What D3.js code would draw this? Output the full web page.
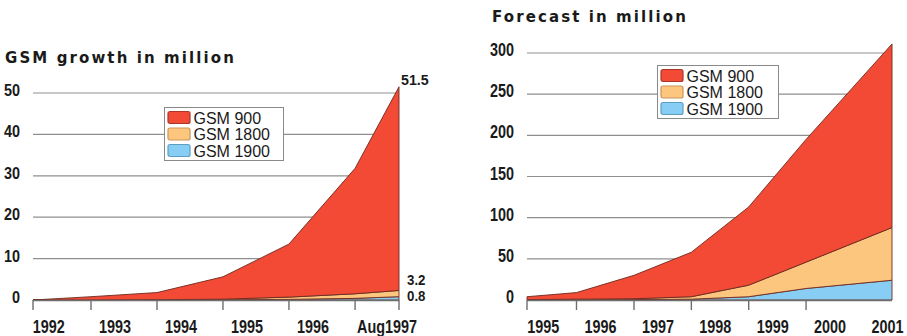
<!DOCTYPE html>
<html>
<head>
<meta charset="utf-8">
<script src="https://cdn.jsdelivr.net/npm/d3@7"></script>
<style>
  body { margin: 0; background: #fff; }
  svg { display: block; }
</style>
</head>
<body>
<script>
let width = 907
let height = 336

// series, bottom of the stack last
let seriesNames = ['GSM 900', 'GSM 1800', 'GSM 1900']
let seriesColors = ['#f34a35', '#fdc67e', '#88cef4']
let swatchStroke = ['#a8372a', '#c9955a', '#5c9dc2']

// left panel: GSM growth in million
let growthDates = ['1992-02-15', '1993-01-01', '1994-01-01', '1995-01-01', '1996-01-01', '1997-01-01', '1997-09-01']
let growth900 = [0, 0.78, 1.72, 5.4, 12.8, 30.3, 49.2]
let growth1800 = [0, 0.02, 0.08, 0.15, 0.55, 1.1, 1.5]
let growth1900 = [0, 0, 0, 0.05, 0.15, 0.4, 0.8]
let growthTicks = [0, 10, 20, 30, 40, 50]
let growthLabels = ['1992', '1993', '1994', '1995', '1996', 'Aug1997']
let growthEndValues = [51.5, 3.2, 0.8]

// right panel: Forecast in million
let forecastDates = ['1995-02-20', '1996-01-01', '1997-01-01', '1998-01-01', '1999-01-01', '2000-01-01', '2001-07-01']
let forecast900 = [3.5, 8, 28.5, 54, 95, 149, 223]
let forecast1800 = [0.5, 1, 1, 3, 14, 32, 64]
let forecast1900 = [0, 0, 0.5, 1, 4, 14, 24]
let forecastTicks = [0, 50, 100, 150, 200, 250, 300]
let forecastLabels = ['1995', '1996', '1997', '1998', '1999', '2000', '2001']

let parse = d3.timeParse('%Y-%m-%d')
let condFont = '"Liberation Sans", Arial, sans-serif'

let svg = d3.select('body')
  .append('svg')
  .attr('width', width)
  .attr('height', height)

svg.append('rect').attr('width', width).attr('height', height).attr('fill', '#fff')

function rows(dates, s900, s1800, s1900) {
  return dates.map((d, i) => ({
    date: parse(d),
    'GSM 900': s900[i],
    'GSM 1800': s1800[i],
    'GSM 1900': s1900[i]
  }))
}

// bold condensed text, squeezed horizontally
function condText(g, txt, x, y, size, sx, anchor) {
  return g.append('text')
    .attr('transform', 'translate(' + x + ',' + y + ') scale(' + sx + ',1)')
    .attr('font-family', condFont)
    .attr('font-weight', 'bold')
    .attr('font-size', size)
    .attr('text-anchor', anchor)
    .attr('fill', '#1a1a1a')
    .text(txt)
}

function drawPanel(cfg) {
  let g = svg.append('g')
  let data = rows(cfg.dates, cfg.s900, cfg.s1800, cfg.s1900)

  let x = d3.scaleTime()
    .domain(d3.extent(data, d => d.date))
    .range([cfg.left, cfg.right])
  let y = d3.scaleLinear()
    .domain([0, d3.max(cfg.yTicks)])
    .range([cfg.base, cfg.top])

  // title
  g.append('text')
    .attr('x', cfg.titleX)
    .attr('y', cfg.titleY)
    .attr('font-family', '"DejaVu Sans", sans-serif')
    .attr('font-weight', 'bold')
    .attr('font-size', 15)
    .attr('letter-spacing', '2.1px')
    .attr('fill', '#1a1a1a')
    .text(cfg.title)

  // grid
  g.selectAll('.grid')
    .data(cfg.yTicks.filter(v => v > 0))
    .enter()
    .append('line')
    .attr('x1', cfg.left)
    .attr('x2', cfg.right)
    .attr('y1', d => y(d))
    .attr('y2', d => y(d))
    .attr('stroke', '#8f8f8f')
    .attr('stroke-width', 1.2)

  // y labels
  cfg.yTicks.forEach(v => {
    condText(g, v, cfg.yLabelX, y(v) + 3, cfg.yFont, cfg.ySx, 'end')
  })

  // stacked areas
  let stack = d3.stack().keys(seriesNames.slice().reverse())
  let layers = stack(data)
  let area = d3.area()
    .x(d => x(d.data.date))
    .y0(d => y(d[0]))
    .y1(d => y(d[1]))

  g.selectAll('.layer')
    .data(layers)
    .enter()
    .append('path')
    .attr('d', area)
    .attr('fill', d => seriesColors[seriesNames.indexOf(d.key)])
    .attr('stroke', '#6b2a20')
    .attr('stroke-width', 0.9)
    .attr('stroke-linejoin', 'round')

  // x axis baseline and ticks
  g.append('line')
    .attr('x1', cfg.left)
    .attr('x2', cfg.right)
    .attr('y1', cfg.base + 0.5)
    .attr('y2', cfg.base + 0.5)
    .attr('stroke', '#6e6e6e')
    .attr('stroke-width', 1.4)

  let tickDates = cfg.endTick ? data : data.slice(0, -1)
  g.selectAll('.tick')
    .data(tickDates)
    .enter()
    .append('line')
    .attr('x1', d => x(d.date))
    .attr('x2', d => x(d.date))
    .attr('y1', cfg.base)
    .attr('y2', cfg.base + 10)
    .attr('stroke', '#6e6e6e')
    .attr('stroke-width', 1.4)

  cfg.xLabels.forEach(lab => {
    if (/^\d{4}$/.test(lab)) {
      let cx = x(new Date(+lab, 0, 1)) + 24
      condText(g, lab, cx, 333, 18, 0.8, 'middle')
    } else {
      condText(g, lab, cfg.right + 18, 333, 18, 0.8, 'end')
    }
  })

  // legend
  let lg = g.append('g')
    .attr('transform', 'translate(' + cfg.legendX + ',' + cfg.legendY + ')')
  lg.append('rect')
    .attr('width', cfg.legendW)
    .attr('height', 53)
    .attr('fill', '#fff')
    .attr('stroke', '#8a8a8a')
    .attr('stroke-width', 1)
  seriesNames.forEach((name, i) => {
    lg.append('rect')
      .attr('x', 3.5)
      .attr('y', 4 + i * 16.5)
      .attr('width', 22)
      .attr('height', 12)
      .attr('rx', 2)
      .attr('fill', seriesColors[i])
      .attr('stroke', swatchStroke[i])
      .attr('stroke-width', 1.2)
    lg.append('text')
      .attr('x', 29)
      .attr('y', 16 + i * 16.5)
      .attr('font-family', '"Liberation Sans", Arial, sans-serif')
      .attr('font-size', 16)
      .attr('fill', '#1a1a1a')
      .text(name)
  })

  return {g: g, x: x, y: y}
}

let left = drawPanel({
  title: 'GSM growth in million', titleX: 5, titleY: 63,
  dates: growthDates, s900: growth900, s1800: growth1800, s1900: growth1900,
  yTicks: growthTicks, xLabels: growthLabels,
  left: 33, right: 399, base: 300, top: 93,
  yLabelX: 20, yFont: 16, ySx: 0.9, endTick: true,
  legendX: 164.5, legendY: 107.5, legendW: 119
})

// values at the end of the growth chart
let endX = left.x.range()[1]
condText(left.g, growthEndValues[0], endX + 2, left.y(growthEndValues[0]) - 2, 15, 0.95, 'start')
condText(left.g, growthEndValues[1], endX + 8, left.y(growthEndValues[1]) - 2, 14, 0.95, 'start')
condText(left.g, growthEndValues[2], endX + 8, left.y(0) + 1, 14, 0.95, 'start')

drawPanel({
  title: 'Forecast in million', titleX: 492, titleY: 22,
  dates: forecastDates, s900: forecast900, s1800: forecast1800, s1900: forecast1900,
  yTicks: forecastTicks, xLabels: forecastLabels,
  left: 527, right: 892, base: 300, top: 53,
  yLabelX: 514, yFont: 18, ySx: 0.8, endTick: false,
  legendX: 657.5, legendY: 65.5, legendW: 121
})
</script>
</body>
</html>
